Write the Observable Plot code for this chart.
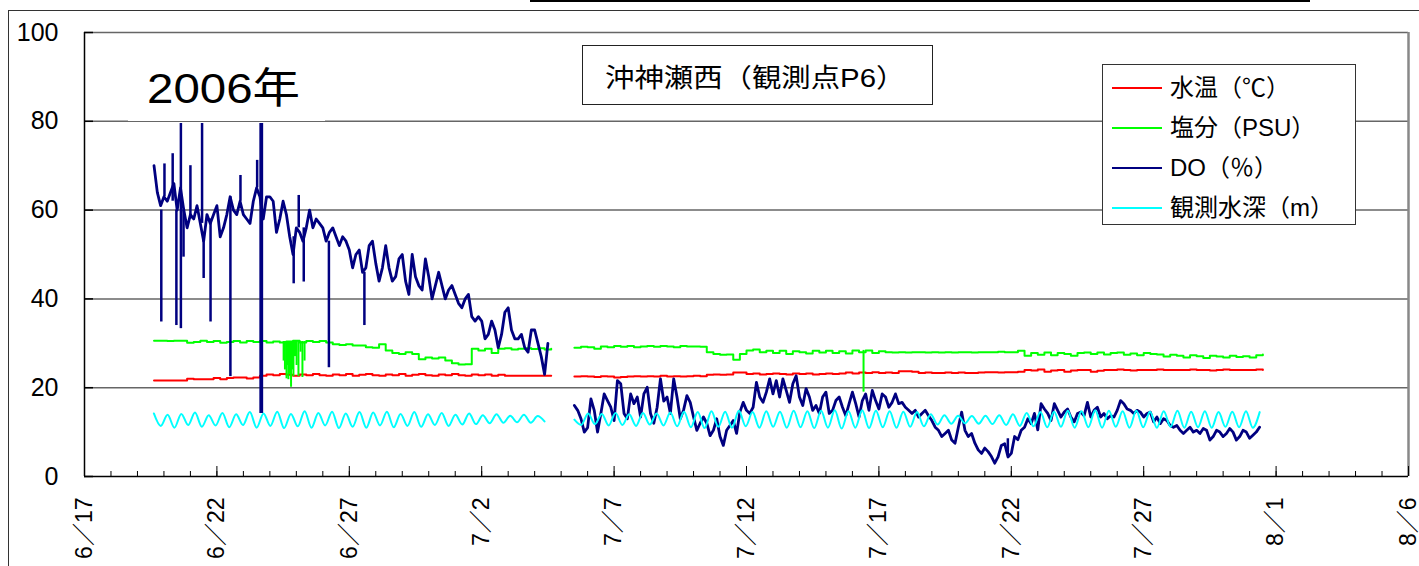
<!DOCTYPE html>
<html>
<head>
<meta charset="utf-8">
<script src="https://cdn.jsdelivr.net/npm/d3@7"></script>
<script src="https://cdn.jsdelivr.net/npm/@observablehq/plot@0.6"></script>
<style>
  html, body { margin: 0; padding: 0; background: #fff; }
  body { width: 1419px; height: 566px; overflow: hidden; position: relative;
         font-family: "Liberation Sans", "Noto Sans CJK JP", sans-serif; color: #000; }
  * { box-sizing: border-box; }
  #chart { position: absolute; left: 0; top: 0; }
  .frame { position: absolute; left: 8px; top: 10px; width: 1440px; height: 620px;
           border-left: 1.5px solid #333; border-top: 1.5px solid #333; pointer-events: none; }
  .topbox { position: absolute; left: 530px; top: -20px; width: 780px; height: 22px; border: 2px solid #000; }
  .year { position: absolute; left: 128px; top: 40px; width: 197px; height: 81px; background: #fff; }
  .year span { position: absolute; left: 19px; top: 28px; font-size: 42px; line-height: 42px;
               white-space: nowrap; transform: scaleX(1.13); transform-origin: left center; }
  .title { position: absolute; left: 582px; top: 45px; width: 351px; height: 60px; background: #fff;
           border: 1.5px solid #222; display: flex; align-items: center; padding-left: 22px; }
  .title span { font-size: 26px; white-space: nowrap; transform: scaleX(1.13); transform-origin: left center; }
  .legend { position: absolute; left: 1102px; top: 64px; width: 254px; height: 161px; background: #fff;
            border: 1.5px solid #333; padding-top: 3px; }
  .row { display: flex; align-items: center; height: 40px; }
  .sw { width: 50px; height: 2px; margin-left: 9px; }
  .lab { margin-left: 8px; font-size: 24px; line-height: 40px; white-space: nowrap; }
</style>
</head>
<body>
<div id="chart"></div>
<script>
// ---------------- data ----------------
const yTicks = [0, 20, 40, 60, 80, 100];
const majorTickDates = ["2006-06-17","2006-06-22","2006-06-27","2006-07-02","2006-07-07","2006-07-12",
                        "2006-07-17","2006-07-22","2006-07-27","2006-08-01","2006-08-06"];
const majorTickLabels = ["6／17","6／22","6／27","7／2","7／7","7／12","7／17","7／22","7／27","8／1","8／6"];

const seriesNames = ["水温（℃）", "塩分（PSU）", "DO（％）", "観測水深（m）"];
const seriesColors = ["#ff0000", "#00ff00", "#000080", "#00ffff"];

// sampling: days since 2006-06-17 00:00
const seg1Start = 2.625, seg2Start = 18.5;
const doStep = 0.125, tsStep = 0.25, tideStep = 0.2588;

// DO (%) every 3 h
const doSeg1 = [70,64,61,63,62,64,66,60,65,60, 56,59,58,61,57,53,59,57,59,61,
  54,56,59,63,60,59,62,59,58,57, 62,65,63,58,63,63,62,55,58,62, 59,54,50,56,55,53,56,60,56,58,
  57,56,53,55,56,54,52,54,53,51, 47,50,51,46,47,52,53,48,44,47, 52,47,44,45,49,50,44,41,50,45,
  43,42,49,45,40,43,46,43,40,42, 43,41,39,38,40,41,36,35,36,35, 31,32,35,33,29,32,37,38,33,31,
  31,32,29,28,33,33,30,27,23,30];
const doSeg2 = [16,14.9,13,10,11,17.5,14.9,10,14.2,18.6, 17.1,15.6,12.6,21.6,20.9,14.2,13,18.6,16.4,17.9,
  13.4,18.6,20.1,14.2,12,15.6,22,17,17.9,14.2, 22,17.9,13,15,18.2,16.7,13.4,10.4,12,13.4,
  12,9.2,10.4,13,9,7,10.4,11.5,12.6,9.7, 14.5,16.7,14.9,14.2,15.6,21.2,17.9,16.7,19,22,
  18.6,21.6,17.9,22,19.4,16.7,20.9,22.7,17.9,16, 19.8,17.9,14.9,16,14.2,17.9,19,14.2,14.9,17.1,
  17.9,15.6,13.7,16.4,19,16.4,13.4,17.1,18.6,14.9, 19.4,17.1,15.2,18.6,17.9,15.6,16.7,18.6,16.4,16.7,
  15.6,14.9,14.2,14.9,13.4,14.2,14.9,13.7,12.6,11.1, 10.4,9,9.7,10.4,8.2,7.5,11.1,14.5,10.4,9,
  9.7,7.5,6,5.2,6.4,5.6,4.5,3,
  4.4,7,7.4,4.4,5.2,9,8.3,10.4,11.1,13, 11.9,14.2,10.5,16.4,15.2,14.2,12.6,16.4,14.9,13.4,
  14.5,15.2,13.4,12.3,14.2,14.5,13.7,16.7,13.4,14.9, 15.6,13.4,14.2,13,13.7,13.4,14.9,17.1,16.4,15.2,
  14.9,14.2,14.9,14.5,13.4,14.2,14.5,12.3,13.4,11.9, 13,12.6,11.5,11.1,11.5,10.4,9.7,10.4,11.1,10,
  10.4,9.7,10.8,10.4,8.2,9,10.4,10,9,9.7, 10.8,10,8.2,9,10.4,10,8.6,9.3,10,11.1];
// DO spikes: [day, from, to]
const doSpikes = [[2.90,60,34.8],[3.02,63,70.4],[3.33,62,72.7],[3.47,60,34],[3.64,33.3,79.5],
  [3.74,60,49.4],[4.00,58,70],[4.44,57,79.5],[4.50,55,44.6],[4.76,58,34.8],[5.51,63,22.5],
  [5.89,62,67.8],[6.52,65,71.2],[6.65,79.5,14.2],[6.70,79.5,14.2],[7.90,54,43.4],[8.09,56,63.3],
  [8.28,56,43.8],[9.23,53,24.5],[10.57,46,34],[34.87,8.5,4.8]];

// water temperature (℃) every 6 h
const tempSeg1 = [21.6,21.6,21.6,21.6,21.6,22.0,21.9,21.9,21.9,22.2, 21.9,22.2,22.3,22.3,22.1,22.3,22.7,23.0,22.8,23.1,
  22.9,22.7,23.0,22.8,23.1,22.8,22.7,23.0,22.8,23.1, 22.7,22.9,23.1,22.8,22.7,23.0,22.8,23.1,22.7,22.9,
  23.1,22.8,22.7,23.0,22.8,23.1,22.8,22.7,23.0,22.8, 23.0,22.7,22.9,22.7,22.7,22.7,22.7,22.7,22.7,22.7,22.7];
const tempSeg2 = [22.5,22.6,22.5,22.4,22.6,22.5,22.3,22.4,22.5,22.6, 22.5,22.6,22.5,22.7,22.5,22.6,22.5,22.6,22.7,22.6,
  22.9,23.0,22.9,23.0,23.4,23.4,
  23.1,23.2,23.0,23.1,23.2,23.1,23.0,23.2,23.1,23.2,23.0,23.1,23.2,23.1,23.2,
  23.4,23.2,23.4,23.3,23.5,23.3,23.4,23.3,23.7,23.7,23.6,
  23.3,23.4,23.3,23.3,23.4,23.3,23.4,23.3,23.3,23.4,23.5,23.5,23.4,23.5,23.5,23.6,
  24.0,23.9,24.1,23.6,23.9,24.0,23.6,23.9,24.0,24.0, 23.6,23.8,24.0,24.0,24.1,24.0,23.9,24.0,24.0,24.0,
  24.1,24.0,24.0,24.0,24.0,24.1,24.0,24.0,23.9,24.0, 24.1,24.0,24.0,24.0,24.0,24.1,24.0];

// salinity (PSU) every 6 h
const salSeg1 = [30.6,30.6,30.5,30.6,30.6,30.1,30.3,30.6,30.3,30.5, 30.1,30.3,30.5,30.2,30.5,30.3,30.5,30.2,30.4,30.2,
  30.4,30.6,30.2,30.5,30.3,30.5,30.2,29.8,29.6,29.8, 29.5,29.5,29.1,29.0,29.8,28.4,27.8,27.6,28.0,27.6,
  26.4,26.8,26.6,26.8,26.1,25.5,25.2,25.3,28.8,28.4, 28.8,27.8,28.8,28.9,28.6,28.8,28.9,28.7,28.9,28.6,28.8];
const salSeg2 = [29.0,29.2,29.1,28.8,29.3,29.1,29.4,29.2,29.4,29.1, 29.3,29.4,29.2,29.4,29.3,29.1,29.4,29.3,29.3,29.2,
  28.0,27.6,27.4,27.5,26.3,27.6,28.4,28.6,28.0,28.3,
  27.8,28.3,27.6,28.2,28.0,27.7,28.3,27.9,28.3,27.8,28.2,27.7,28.4,28.0,28.4,27.8,28.2,28.0,
  27.9,28.0,27.9,28.0,28.0,27.9,28.0,27.9,28.0,27.9,28.0,28.0,27.9,28.0,28.0,28.0,28.1,28.0,28.0,28.3,
  27.2,27.8,27.4,27.9,27.3,27.8,27.6,27.2,27.8,27.9, 27.6,27.9,27.5,27.8,27.9,27.4,27.7,27.3,27.8,27.6,
  27.5,27.0,27.4,27.2,26.8,27.3,27.1,26.7,27.2,27.0, 26.8,27.2,26.9,27.1,26.8,27.3,27.5];
// salinity drops: [day, from, to]
const salSpikes = [[7.52,30.4,26],[7.57,30.4,24],[7.63,30.4,22],[7.67,30.4,25],[7.70,30.4,21.8],
  [7.76,30.4,23],[7.80,30.4,20.1],[7.85,30.4,24],[7.89,30.4,22.5],[7.95,30.4,27],[8.01,30.4,25],
  [8.08,30.4,22.5],[8.16,30.4,28],[8.23,30.4,22.3],[8.31,30.4,26],[29.42,28.4,19]];

// observed depth (m), tidal highs and lows
const depthSeg1 = [14.2,11.4,13.9,11.0,14.1,11.6,14.4,11.2,13.8,11.5, 14.3,11.1,14.0,11.6,14.5,11.0,14.2,11.4,14.6,10.9,
  14.1,11.3,14.7,11.0,14.3,11.5,14.6,10.9,14.2,11.2, 14.5,11.0,14.4,11.5,14.6,11.1,14.1,11.4,14.5,11.2,
  14.0,11.6,14.3,11.4,13.9,11.7,14.2,11.8,13.8,12.0, 14.0,12.1,13.7,12.2,13.9,12.1,13.6,12.4];
const depthSeg2 = [12.8,
  11.6,14.2,11.8,14.1,11.5,14.3,11.6,14.0,11.4,14.3,11.7,14.2,11.5,14.4,11.3,
  14.6,11.1,14.5,10.9,14.7,11.2,14.6,11.0,14.8,11.3,14.5,11.0,14.7,11.2,14.6,11.0,14.8,
  11.1,14.7,10.9,14.8,11.0,14.9,10.8,14.7,11.0,14.9,10.9,14.8,11.1,14.7,11.0,14.6,11.2,14.5,11.3,
  14.0,11.7,13.8,11.9,13.7,12.0,13.6,11.9,13.7,11.8,13.8,11.6,14.0,
  11.4,14.3,11.3,14.5,11.1,14.6,11.2,14.8,11.0,14.7,11.1,14.9,11.0,14.8,11.2,14.7,11.0,14.8,
  11.1,14.6,11.0,14.7,11.2,14.8,11.0,14.6,11.1,14.7,11.0,14.5,11.2,14.6,11.1,14.7,11.0,14.5];

// ---------------- build ----------------
const DAY = 864e5;
const T0 = Date.UTC(2006, 5, 17);
const toDate = d => new Date(T0 + d * DAY);
const rows = (start, step, vals, seg) => vals.map((v, i) => ({date: toDate(start + i * step), v, seg}));
const spikeRows = arr => arr.map(([d, a, b]) => ({date: toDate(d), y1: a, y2: b}));

const doRows = [...rows(seg1Start, doStep, doSeg1, 1), ...rows(seg2Start, doStep, doSeg2, 2)];
const tempRows = [...rows(seg1Start, tsStep, tempSeg1, 1), ...rows(seg2Start, tsStep, tempSeg2, 2)];
const salRows = [...rows(seg1Start, tsStep, salSeg1, 1), ...rows(seg2Start, tsStep, salSeg2, 2)];
const depthRows = [...rows(seg1Start - 0.005, tideStep, depthSeg1, 1), ...rows(seg2Start, tideStep, depthSeg2, 2)];

const majorDates = majorTickDates.map(s => new Date(s + "T00:00:00Z"));
const labelMap = new Map(majorDates.map((d, i) => [+d, majorTickLabels[i]]));
const xStart = majorDates[0], xEnd = majorDates[majorDates.length - 1];
const minorDays = d3.utcDay.range(xStart, new Date(+xEnd + 1));

const chart = Plot.plot({
  width: 1419, height: 566,
  marginLeft: 84, marginRight: 11, marginTop: 32, marginBottom: 90,
  style: {fontFamily: '"Liberation Sans", "Noto Sans CJK JP", sans-serif', fontSize: "22px",
          background: "transparent", color: "#000", overflow: "visible"},
  x: {type: "utc", domain: [xStart, xEnd]},
  y: {domain: [0, 100]},
  marks: [
    Plot.ruleY(yTicks.slice(1), {stroke: "#666", strokeWidth: 1.5}),
    Plot.ruleX([xEnd], {stroke: "#888", strokeWidth: 2.5}),
    Plot.line(tempRows, {x: "date", y: "v", z: "seg", stroke: seriesColors[0], strokeWidth: 2, curve: "step-after"}),
    Plot.line(salRows, {x: "date", y: "v", z: "seg", stroke: seriesColors[1], strokeWidth: 2, curve: "step-after"}),
    Plot.ruleX(spikeRows(salSpikes), {x: "date", y1: "y1", y2: "y2", stroke: seriesColors[1], strokeWidth: 2}),
    Plot.line(doRows, {x: "date", y: "v", z: "seg", stroke: seriesColors[2], strokeWidth: 2.8}),
    Plot.ruleX(spikeRows(doSpikes), {x: "date", y1: "y1", y2: "y2", stroke: seriesColors[2], strokeWidth: 2.5}),
    Plot.line(depthRows, {x: "date", y: "v", z: "seg", stroke: seriesColors[3], strokeWidth: 2, curve: "monotone-x"}),
    Plot.ruleY([0], {stroke: "#000", strokeWidth: 1.5}),
    Plot.ruleX([xStart], {stroke: "#000", strokeWidth: 1.5}),
    Plot.axisY(yTicks, {tickSize: -9, fill: "none", label: null, strokeWidth: 1.5}),
    Plot.axisY(yTicks, {tickSize: 0, tickPadding: 26, label: null, fontSize: 25}),
    Plot.axisX(minorDays, {tickSize: -5, fill: "none", label: null}),
    Plot.axisX(majorDates, {tickSize: -10, fill: "none", label: null}),
    Plot.axisX(majorDates, {tickSize: 0, tickPadding: 21, tickRotate: -90, fontSize: 23, label: null,
                            tickFormat: d => labelMap.get(+d)})
  ]
});
document.getElementById("chart").appendChild(chart);

// overlays
const body = document.body;
const mk = (cls, html) => { const el = document.createElement("div"); el.className = cls; el.innerHTML = html; body.appendChild(el); return el; };
mk("topbox", "");
mk("year", "<span>2006年</span>");
mk("title", "<span>沖神瀬西（観測点P6）</span>");
const legend = mk("legend", "");
seriesNames.forEach((name, i) => {
  const row = document.createElement("div");
  row.className = "row";
  row.innerHTML = `<div class="sw" style="background:${seriesColors[i]}"></div><div class="lab">${name}</div>`;
  legend.appendChild(row);
});
mk("frame", "");
</script>
</body>
</html>
